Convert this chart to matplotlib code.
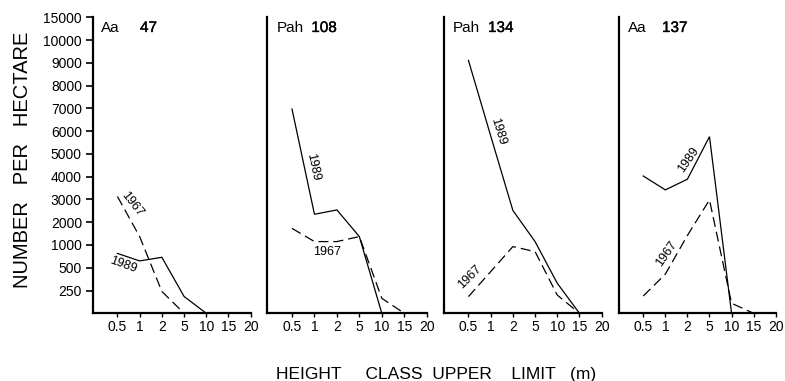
import numpy as np
import matplotlib
matplotlib.use("Agg")
import matplotlib.pyplot as plt
import matplotlib.patheffects as pe

plt.rcParams['font.family'] = ['Liberation Sans', 'DejaVu Sans']

# ---------------- data ----------------
height_classes = [0.5, 1, 2, 5, 10, 15, 20]
y_ticks = [250, 500, 1000, 2000, 3000, 4000, 5000, 6000, 7000, 8000, 9000, 10000, 15000]

panel_names = ["Aa", "Pah", "Pah", "Aa"]
panel_ids = ["47", "108", "134", "137"]

x_1989_p1 = [0.5, 1, 2, 5, 10]
y_1989_p1 = [815, 650, 730, 185, 0]
x_1967_p1 = [0.5, 1, 2, 5]
y_1967_p1 = [3130, 1370, 240, 0]

x_1989_p2 = [0.5, 1, 2, 5, 10]
y_1989_p2 = [6970, 2350, 2540, 1370, 0]
x_1967_p2 = [0.5, 1, 2, 5, 10, 15]
y_1967_p2 = [1730, 1150, 1150, 1370, 165, 0]

x_1989_p3 = [0.5, 1, 2, 5, 10, 15]
y_1989_p3 = [9110, 5800, 2520, 1150, 330, 0]
x_1967_p3 = [0.5, 1, 2, 5, 10, 15]
y_1967_p3 = [183, 457, 965, 855, 200, 0]

x_1989_p4 = [0.5, 1, 2, 5, 10]
y_1989_p4 = [4030, 3420, 3890, 5760, 0]
x_1967_p4 = [0.5, 1, 2, 5, 10, 15, 20]
y_1967_p4 = [190, 430, 1420, 2980, 110, 0, 0]

series_1989 = [(x_1989_p1, y_1989_p1), (x_1989_p2, y_1989_p2),
               (x_1989_p3, y_1989_p3), (x_1989_p4, y_1989_p4)]
series_1967 = [(x_1967_p1, y_1967_p1), (x_1967_p2, y_1967_p2),
               (x_1967_p3, y_1967_p3), (x_1967_p4, y_1967_p4)]

# ---------------- scales (equal spacing per class) ----------------
x_levels = np.array([-0.5, 0] + height_classes, dtype=float)
x_index = np.arange(len(x_levels), dtype=float) - 1
y_levels = np.array([0] + y_ticks, dtype=float)
y_index = np.arange(len(y_levels), dtype=float)

def xf(v):
    return np.interp(v, x_levels, x_index)
def xi(v):
    return np.interp(v, x_index, x_levels)
def yf(v):
    return np.interp(v, y_levels, y_index)
def yi(v):
    return np.interp(v, y_index, y_levels)

# ---------------- layout ----------------
W, H = 785, 381
fig = plt.figure(figsize=(W / 100, H / 100), dpi=100)

spine_px = [93, 267.3, 444, 619]
right_px = [250.7, 426.7, 601.7, 775.7]
top_px, bottom_px = 17.3, 313.3

# label placement (axes fraction, rotation)
lab1989 = [(0.19, 0.163, -20), (0.289, 0.493, -78), (0.344, 0.614, -73), (0.442, 0.52, 55)]
lab1967 = [(0.245, 0.369, -52), (0.373, 0.208, 0), (0.165, 0.124, 45), (0.304, 0.20, 55)]
name_dx = [8, 9, 9, 9]
id_dx = [47, 44, 44, 43]

for i in range(4):
    left = spine_px[i] / W
    width = (right_px[i] - spine_px[i]) / W
    ax = fig.add_axes([left, (H - bottom_px) / H, width, (bottom_px - top_px) / H])
    ax.set_xscale('function', functions=(xf, xi))
    ax.set_yscale('function', functions=(yf, yi))
    ax.set_xlim(xi(-0.1), 20)
    ax.set_ylim(0, 15000)

    for s in ['top', 'right']:
        ax.spines[s].set_visible(False)
    for s in ['left', 'bottom']:
        ax.spines[s].set_linewidth(1.6)

    ax.set_xticks(height_classes)
    ax.set_xticklabels([f"{v:g}" for v in height_classes])
    ax.xaxis.set_minor_locator(matplotlib.ticker.NullLocator())
    ax.yaxis.set_minor_locator(matplotlib.ticker.NullLocator())
    ax.tick_params(axis='x', direction='out', length=3, width=1, pad=2, labelsize=10)
    if i == 0:
        ax.set_yticks(y_ticks)
        ax.set_yticklabels([str(v) for v in y_ticks])
        ax.tick_params(axis='y', direction='out', length=5, width=1.2, pad=3, labelsize=10)
    else:
        ax.set_yticks([])

    xs, ys = series_1989[i]
    ax.plot(xs, ys, color='black', lw=0.9, solid_joinstyle='miter')
    xs, ys = series_1967[i]
    ax.plot(xs, ys, color='black', lw=0.9, linestyle=(0, (8, 4)))

    ax.annotate(panel_names[i], xy=(0, 1), xycoords='axes fraction',
                xytext=(name_dx[i] * 0.72, -10.7 * 0.72), textcoords='offset points',
                ha='left', va='center', fontsize=11)
    ax.annotate(panel_ids[i], xy=(0, 1), xycoords='axes fraction',
                xytext=(id_dx[i] * 0.72, -10.7 * 0.72), textcoords='offset points',
                ha='left', va='center', fontsize=11,
                path_effects=[pe.withStroke(linewidth=0.25, foreground='black')])

    fx, fy, rot = lab1989[i]
    ax.text(fx, fy, "1989", transform=ax.transAxes, rotation=rot,
            ha='center', va='center', fontsize=9, rotation_mode='anchor')
    fx, fy, rot = lab1967[i]
    ax.text(fx, fy, "1967", transform=ax.transAxes, rotation=rot,
            ha='center', va='center', fontsize=9, rotation_mode='anchor')

fig.text(23 / W, (H - 160) / H, "NUMBER   PER   HECTARE", rotation=90,
         ha='center', va='center', fontsize=14.5)
fig.text(436 / W, (H - 379) / H, "HEIGHT     CLASS  UPPER    LIMIT   (m)",
         ha='center', va='baseline', fontsize=12.5)

fig.savefig("out.png", dpi=100)
